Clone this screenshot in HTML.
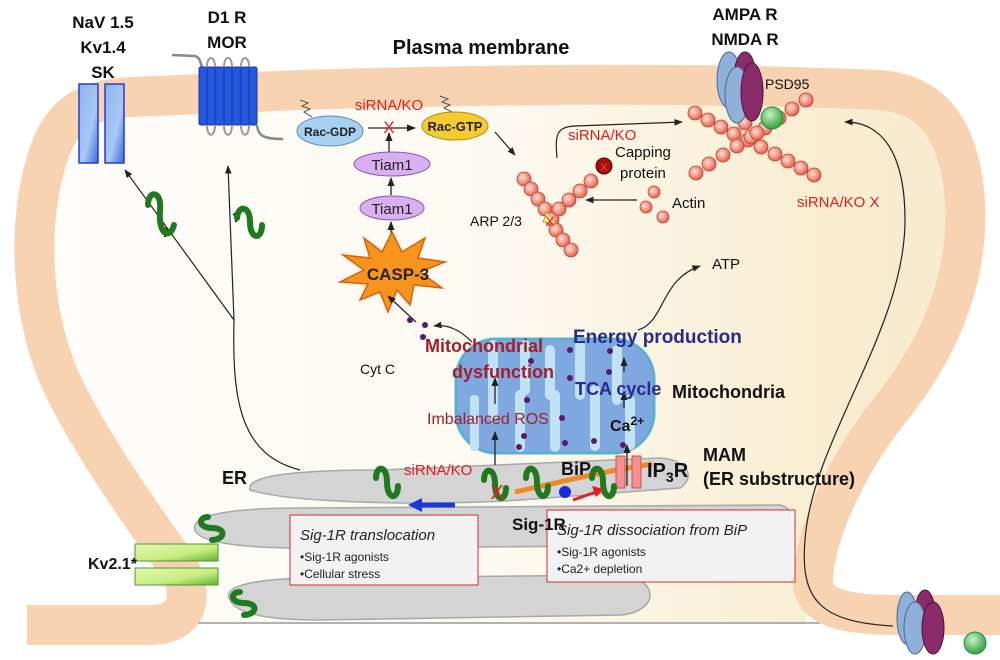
<!DOCTYPE html>
<html><head><meta charset="utf-8"><style>
html,body{margin:0;padding:0;background:#fff}
svg{display:block}
text{font-family:"Liberation Sans",sans-serif}
.b{font-weight:bold}
</style></head><body>
<svg width="1000" height="660" viewBox="0 0 1000 660" xmlns="http://www.w3.org/2000/svg">
<defs>
<linearGradient id="cell" x1="0" y1="0" x2="1" y2="0">
<stop offset="0" stop-color="#fefdfb"/><stop offset="0.5" stop-color="#fcf9f0"/><stop offset="0.85" stop-color="#f8edd0"/><stop offset="1" stop-color="#f7ecd0"/></linearGradient>
<radialGradient id="act" cx="0.4" cy="0.4" r="0.6"><stop offset="0" stop-color="#ffe2d6"/><stop offset="1" stop-color="#e8604e"/></radialGradient>
<radialGradient id="grn" cx="0.4" cy="0.35" r="0.6"><stop offset="0" stop-color="#c8f0c8"/><stop offset="1" stop-color="#3caa48"/></radialGradient>
<linearGradient id="chan" x1="0" y1="0" x2="1" y2="1"><stop offset="0" stop-color="#8ab4f0"/><stop offset="0.6" stop-color="#a8c8f4"/><stop offset="1" stop-color="#3a6ad8"/></linearGradient>
<linearGradient id="kv" x1="0" y1="0" x2="1" y2="1"><stop offset="0" stop-color="#e4f8b0"/><stop offset="0.6" stop-color="#c8ec80"/><stop offset="1" stop-color="#60b030"/></linearGradient>
<marker id="ah" viewBox="0 0 10 10" refX="9" refY="5" markerWidth="7" markerHeight="7" orient="auto"><path d="M0,1 L10,5 L0,9 Z" fill="#222"/></marker>
</defs>

<path d="M170,555 C130,500 90,440 65,390 C30,320 25,220 50,150 C65,110 90,100 130,97 L300,90 C500,84 700,82 880,90 C940,95 960,140 965,200 C970,290 930,360 890,410 C850,460 815,530 813,580 L805,623 L190,623 Z" fill="url(#cell)"/>
<line x1="185" y1="623" x2="820" y2="623" stroke="#999" stroke-width="1.5"/>
<path d="M27,625 L150,625 C195,625 195,585 170,555 C130,500 90,440 65,390 C30,320 25,220 50,150 C65,110 90,100 130,97 L300,90 C500,84 700,82 880,90 C940,95 960,140 965,200 C970,290 930,360 890,410 C850,460 815,530 813,580 C812,610 850,615 900,615 L1000,615" fill="none" stroke="#f8d3b2" stroke-width="40"/>

<g fill="#d4d4d4" stroke="#a8a8a8" stroke-width="1.5">
<path d="M195,530 C190,515 230,508 300,508 L780,505 C800,510 800,540 780,545 L300,548 C240,548 198,542 195,530 Z"/>
<path d="M230,600 C220,585 260,578 320,578 L620,575 C660,578 660,612 620,615 L320,620 C260,620 235,612 230,600 Z"/>
<path d="M250,490 C245,475 300,470 380,470 L660,458 C690,460 695,478 680,488 L520,500 C450,505 300,505 250,490 Z"/>
</g>
<path d="M515,492 C560,482 600,472 652,464" stroke="#f08a20" stroke-width="5" fill="none"/>

<rect x="79" y="84" width="19" height="79" fill="url(#chan)" stroke="#2a3ad0" stroke-width="1.5"/>
<rect x="105" y="84" width="19" height="79" fill="url(#chan)" stroke="#2a3ad0" stroke-width="1.5"/>
<path d="M172,55 L195,56 C202,58 200,67 203,67 M257,125 C258,135 262,139 283,139" stroke="#888" stroke-width="2.5" fill="none"/>
<g stroke="#999" stroke-width="2" fill="none">
<path d="M207,67 C207,55 215,55 215,67 M224,67 C224,55 232,55 232,67 M241,67 C241,55 249,55 249,67"/>
<path d="M207,125 C207,138 215,138 215,125 M224,125 C224,138 232,138 232,125 M241,125 C241,138 249,138 249,125"/>
</g>
<g fill="#2458dd" stroke="#1a30b0" stroke-width="1">
<rect x="199" y="67" width="8" height="58" rx="2"/><rect x="207" y="67" width="8" height="58" rx="2"/><rect x="215" y="67" width="9" height="58" rx="2"/><rect x="224" y="67" width="8" height="58" rx="2"/><rect x="232" y="67" width="9" height="58" rx="2"/><rect x="241" y="67" width="8" height="58" rx="2"/><rect x="249" y="67" width="8" height="58" rx="2"/>
</g>

<path d="M300,100 l8,3 -6,3 8,3 -6,3 8,5 M440,96 l8,3 -6,3 8,3 -6,3 8,4" stroke="#555" fill="none" stroke-width="1"/>
<ellipse cx="330" cy="131" rx="33" ry="15" fill="#a8d0f0" stroke="#5a8ac0"/>
<text x="330" y="136" font-size="12" text-anchor="middle" class="b" fill="#222">Rac-GDP</text>
<ellipse cx="455" cy="126" rx="33" ry="14" fill="#f5cc30" stroke="#b08a10"/>
<text x="455" y="131" font-size="13" text-anchor="middle" class="b" fill="#222">Rac-GTP</text>
<line x1="368" y1="128" x2="415" y2="128" stroke="#222" stroke-width="1.3" marker-end="url(#ah)"/>
<line x1="389" y1="152" x2="389" y2="133" stroke="#222" stroke-width="1.3" marker-end="url(#ah)"/>
<text x="389" y="133" font-size="17" fill="#e02020" text-anchor="middle">X</text>
<text x="389" y="110" font-size="15" fill="#e02020" text-anchor="middle">siRNA/KO</text>
<ellipse cx="392" cy="164" rx="38" ry="12" fill="#d8b0f0" stroke="#8a5ab0"/>
<text x="392" y="170" font-size="15" text-anchor="middle" fill="#222">Tiam1</text>
<ellipse cx="392" cy="208" rx="32" ry="12" fill="#d8b0f0" stroke="#8a5ab0"/>
<text x="392" y="214" font-size="15" text-anchor="middle" fill="#222">Tiam1</text>
<line x1="391" y1="195" x2="391" y2="178" stroke="#222" stroke-width="1.3" marker-end="url(#ah)"/>
<line x1="391" y1="245" x2="391" y2="222" stroke="#222" stroke-width="1.3" marker-end="url(#ah)"/>
<polygon points="392,232 402,252 425,238 418,258 445,262 420,272 442,288 414,285 410,305 397,290 388,312 380,292 360,300 368,284 340,282 364,270 343,255 370,258 364,238 382,252" fill="#f7941d" stroke="#d8600a" stroke-width="1.5"/>
<text x="398" y="280" font-size="17" class="b" text-anchor="middle" fill="#222">CASP-3</text>

<g stroke="#222" stroke-width="1.2" fill="none">
<path d="M300,470 C240,455 232,400 234,320" />
<path d="M234,320 L125,170" marker-end="url(#ah)"/>
<path d="M234,320 L228,166" marker-end="url(#ah)"/>
<path d="M495,132 L515,155" marker-end="url(#ah)"/>
<path d="M557,158 C555,135 556,127 575,126 L682,122" marker-end="url(#ah)"/>
<path d="M637,200 L586,200" marker-end="url(#ah)"/>
<path d="M893,626 C820,622 800,600 805,540 C812,440 905,330 905,220 C905,150 880,122 845,122" marker-end="url(#ah)"/>
<path d="M638,330 C665,322 660,280 700,266" marker-end="url(#ah)"/>
<path d="M472,342 C460,330 448,324 434,326" marker-end="url(#ah)"/>
<path d="M416,322 L388,296" marker-end="url(#ah)"/>
</g>
<text x="161" y="237" font-size="14" class="b" fill="#222">?</text>
<text x="232" y="222" font-size="14" class="b" fill="#222">?</text>

<g fill="url(#act)" stroke="#c04030" stroke-width="0.8">
<circle cx="524" cy="179" r="7"/><circle cx="531" cy="189" r="7"/><circle cx="538" cy="199" r="7"/><circle cx="545" cy="209" r="7"/><circle cx="552" cy="219" r="7"/><circle cx="556" cy="230" r="7"/><circle cx="563" cy="240" r="7"/><circle cx="571" cy="250" r="7"/>
<circle cx="559" cy="209" r="7"/><circle cx="569" cy="200" r="7"/><circle cx="580" cy="191" r="7"/><circle cx="591" cy="181" r="7"/>
<circle cx="695" cy="113" r="7"/><circle cx="708" cy="120" r="7"/><circle cx="721" cy="127" r="7"/><circle cx="734" cy="134" r="7"/><circle cx="748" cy="140" r="7"/><circle cx="761" cy="147" r="7"/><circle cx="775" cy="154" r="7"/><circle cx="788" cy="161" r="7"/><circle cx="801" cy="168" r="7"/><circle cx="814" cy="175" r="7"/>
<circle cx="696" cy="173" r="7"/><circle cx="709" cy="164" r="7"/><circle cx="723" cy="155" r="7"/><circle cx="737" cy="146" r="7"/><circle cx="751" cy="137" r="7"/><circle cx="765" cy="128" r="7"/><circle cx="779" cy="118" r="7"/><circle cx="792" cy="109" r="7"/><circle cx="806" cy="100" r="7"/>
<circle cx="745" cy="123" r="7"/><circle cx="757" cy="133" r="7"/>
<circle cx="654" cy="192" r="6"/><circle cx="646" cy="207" r="6"/><circle cx="663" cy="217" r="6"/>
</g>
<polygon points="547,212 556,224 543,222" fill="#f0f0a0" stroke="#c0a020"/>
<text x="550" y="226" font-size="14" fill="#e02020" text-anchor="middle">X</text>
<circle cx="604" cy="166" r="8" fill="#a01010" stroke="#600"/>
<text x="604" y="171" font-size="11" fill="#ff4040" text-anchor="middle">X</text>
<ellipse cx="729" cy="80" rx="12" ry="28" fill="#8fb0d8" stroke="#4a6a90"/>
<ellipse cx="745" cy="78" rx="11" ry="26" fill="#8a2c6a" stroke="#501040"/>
<ellipse cx="737" cy="95" rx="12" ry="28" fill="#8fb0d8" stroke="#4a6a90"/>
<ellipse cx="752" cy="92" rx="11" ry="29" fill="#8a2c6a" stroke="#501040"/>
<circle cx="772" cy="118" r="11" fill="url(#grn)" stroke="#2a8a3a"/>
<ellipse cx="907" cy="618" rx="10" ry="26" fill="#8fb0d8" stroke="#4a6a90"/>
<ellipse cx="925" cy="614" rx="10" ry="24" fill="#8a2c6a" stroke="#501040"/>
<ellipse cx="915" cy="628" rx="11" ry="26" fill="#8fb0d8" stroke="#4a6a90"/>
<ellipse cx="933" cy="628" rx="11" ry="26" fill="#8a2c6a" stroke="#501040"/>
<circle cx="975" cy="643" r="11" fill="url(#grn)" stroke="#2a8a3a"/>

<rect x="456" y="339" width="198" height="114" rx="40" fill="#7fa8e0" stroke="#5ab0d0" stroke-width="3"/>
<g fill="#c0e2f2">
<rect x="488" y="340" width="10" height="80" rx="5"/><rect x="470" y="395" width="9" height="56" rx="4"/>
<rect x="520" y="340" width="10" height="55" rx="5"/><rect x="515" y="390" width="10" height="62" rx="5"/>
<rect x="545" y="345" width="10" height="55" rx="5"/><rect x="550" y="390" width="10" height="62" rx="5"/>
<rect x="575" y="340" width="10" height="60" rx="5"/><rect x="590" y="385" width="10" height="66" rx="5"/>
<rect x="612" y="345" width="10" height="60" rx="5"/><rect x="625" y="395" width="10" height="55" rx="5"/>
</g>
<g fill="#5a1a6a">
<circle cx="410" cy="320" r="3"/><circle cx="425" cy="325" r="3"/><circle cx="423" cy="337" r="3"/>
<circle cx="531" cy="361" r="3"/><circle cx="570" cy="350" r="3"/><circle cx="610" cy="351" r="3"/><circle cx="570" cy="378" r="3"/><circle cx="609" cy="372" r="3"/>
<circle cx="527" cy="400" r="3"/><circle cx="562" cy="418" r="3"/><circle cx="524" cy="436" r="3"/><circle cx="519" cy="447" r="3"/><circle cx="565" cy="443" r="3"/><circle cx="594" cy="441" r="3"/><circle cx="623" cy="445" r="3"/>
</g>
<g stroke="#222" stroke-width="1.3">
<line x1="495" y1="465" x2="495" y2="432" marker-end="url(#ah)"/>
<line x1="495" y1="404" x2="495" y2="378" marker-end="url(#ah)"/>
<line x1="627" y1="486" x2="627" y2="445" marker-end="url(#ah)"/>
<line x1="624" y1="408" x2="624" y2="392" marker-end="url(#ah)"/>
<line x1="624" y1="372" x2="624" y2="358" marker-end="url(#ah)"/>
</g>
<rect x="616" y="456" width="9" height="32" fill="#f49090" stroke="#d05050"/>
<rect x="632" y="456" width="9" height="32" fill="#f49090" stroke="#d05050"/>

<g stroke="#1f7a1f" stroke-width="6" fill="none" stroke-linecap="round">
<path d="M148,205 C148,190 162,190 160,210 C158,235 170,240 174,225"/>
<path d="M237,218 C238,205 250,205 250,222 C250,240 262,240 262,225"/>
<path d="M376,478 C376,465 387,465 387,482 C387,500 398,500 398,486"/>
<path d="M484,480 C484,467 495,467 495,484 C495,502 506,502 506,488"/>
<path d="M526,478 C526,465 537,465 537,482 C537,500 548,500 548,486"/>
<path d="M592,478 C592,465 603,465 603,482 C603,500 614,500 614,486"/>
<path d="M208,517 C198,517 198,528 212,528 C226,528 226,539 212,540"/>
<path d="M240,592 C230,592 230,603 244,603 C258,603 258,614 244,615"/>
</g>
<circle cx="565" cy="492" r="6" fill="#1a2ad8"/>
<path d="M455,505 L420,505" stroke="#1a3ad8" stroke-width="5"/><polygon points="408,505 422,498 422,512" fill="#1a3ad8"/>
<path d="M573,500 L596,492" stroke="#e02020" stroke-width="3"/><polygon points="604,489 592,486 596,497" fill="#e02020"/>
<text x="497" y="499" font-size="20" fill="#e02020" text-anchor="middle">X</text>

<rect x="135" y="544" width="83" height="17" fill="url(#kv)" stroke="#4a9a2a"/>
<rect x="135" y="568" width="83" height="17" fill="url(#kv)" stroke="#4a9a2a"/>

<rect x="290" y="515" width="188" height="70" fill="#f2f2f2" stroke="#d03030"/>
<text x="300" y="540" font-size="15" font-style="italic" fill="#222">Sig-1R translocation</text>
<text x="300" y="561" font-size="12" fill="#222">•Sig-1R agonists</text>
<text x="300" y="578" font-size="12" fill="#222">•Cellular stress</text>
<rect x="547" y="510" width="248" height="72" fill="#f2f2f2" stroke="#d03030"/>
<text x="557" y="535" font-size="15" font-style="italic" fill="#222">Sig-1R dissociation from BiP</text>
<text x="557" y="556" font-size="12" fill="#222">•Sig-1R agonists</text>
<text x="557" y="573" font-size="12" fill="#222">•Ca2+ depletion</text>

<g class="b" fill="#111" font-weight="bold">
<text x="103" y="28" font-size="17" text-anchor="middle">NaV 1.5</text>
<text x="103" y="53" font-size="17" text-anchor="middle">Kv1.4</text>
<text x="103" y="78" font-size="17" text-anchor="middle">SK</text>
<text x="227" y="23" font-size="17" text-anchor="middle">D1 R</text>
<text x="227" y="48" font-size="17" text-anchor="middle">MOR</text>
<text x="481" y="54" font-size="20" text-anchor="middle">Plasma membrane</text>
<text x="745" y="20" font-size="17" text-anchor="middle">AMPA R</text>
<text x="745" y="45" font-size="17" text-anchor="middle">NMDA R</text>
<text x="222" y="484" font-size="18">ER</text>
<text x="88" y="569" font-size="16">Kv2.1*</text>
<text x="512" y="530" font-size="17">Sig-1R</text>
<text x="561" y="475" font-size="18">BiP</text>
<text x="647" y="477" font-size="20">IP<tspan font-size="14" dy="5">3</tspan><tspan dy="-5">R</tspan></text>
<text x="703" y="461" font-size="18">MAM</text>
<text x="703" y="485" font-size="18">(ER substructure)</text>
<text x="672" y="398" font-size="18">Mitochondria</text>
<text x="610" y="431" font-size="16">Ca<tspan font-size="12" dy="-6">2+</tspan></text>
</g>
<text x="765" y="89" font-size="14" fill="#111">PSD95</text>
<text x="615" y="157" font-size="15" fill="#111">Capping</text>
<text x="620" y="178" font-size="15" fill="#111">protein</text>
<text x="672" y="208" font-size="15" fill="#111">Actin</text>
<text x="470" y="226" font-size="14" fill="#111">ARP 2/3</text>
<text x="712" y="269" font-size="15" fill="#111">ATP</text>
<text x="360" y="374" font-size="14" fill="#111">Cyt C</text>
<text x="568" y="140" font-size="15" fill="#e02020">siRNA/KO</text>
<text x="797" y="207" font-size="15" fill="#e02020">siRNA/KO X</text>
<text x="404" y="475" font-size="15" fill="#e02020">siRNA/KO</text>
<text x="573" y="343" font-size="19" font-weight="bold" fill="#2a2a8a">Energy production</text>
<text x="575" y="395" font-size="18" font-weight="bold" fill="#2a2a8a">TCA cycle</text>
<text x="425" y="352" font-size="18" font-weight="bold" fill="#a0202a">Mitochondrial</text>
<text x="452" y="378" font-size="18" font-weight="bold" fill="#a0202a">dysfunction</text>
<text x="427" y="424" font-size="16" fill="#a0202a">Imbalanced ROS</text>
</svg>
</body></html>
